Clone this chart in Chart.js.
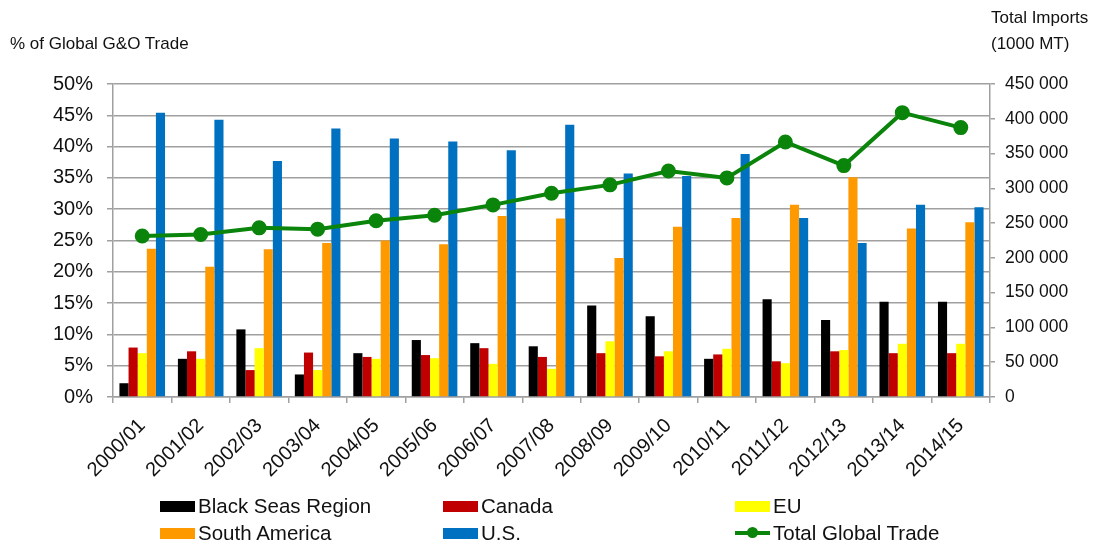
<!DOCTYPE html>
<html>
<head>
<meta charset="utf-8">
<script src="https://cdn.jsdelivr.net/npm/chart.js@4.4.1/dist/chart.umd.min.js"></script>
<style>
    body { margin: 0; background: #fff; font-family: "Liberation Sans", Arial, sans-serif; color: #111; }
    #wrap { position: relative; width: 1099px; height: 548px; }
    #chart { position: absolute; left: 0; top: 0; }
    .title { position: absolute; font-size: 17px; line-height: 26px; }
    .legend-item { position: absolute; font-size: 20.5px; line-height: 24px; white-space: nowrap; }
    .swatch { position: absolute; left: 0; top: 7px; width: 35px; height: 11px; }
    .legend-item span.txt { position: absolute; left: 38px; top: 0; }
</style>
</head>
<body>
<div id="wrap">
    <canvas id="chart" width="1099" height="548"></canvas>
    <div class="title" style="left:10px; top:31px;">% of Global G&amp;O Trade</div>
    <div class="title" style="left:991px; top:5px;">Total Imports<br>(1000 MT)</div>
    <div id="legend"></div>
</div>
<script>
// Marketing years
const years = ['2000/01', '2001/02', '2002/03', '2003/04', '2004/05', '2005/06', '2006/07', '2007/08',
               '2008/09', '2009/10', '2010/11', '2011/12', '2012/13', '2013/14', '2014/15'];

// Share of global trade (%)
const blackSeas = [2.2, 6.1, 10.8, 3.6, 7.0, 9.1, 8.6, 8.1, 14.6, 12.9, 6.1, 15.6, 12.3, 15.2, 15.2];
const canada    = [7.9, 7.3, 4.3, 7.1, 6.4, 6.7, 7.8, 6.4, 7.0, 6.5, 6.8, 5.7, 7.3, 7.0, 7.0];
const eu        = [7.0, 6.1, 7.8, 4.3, 6.1, 6.2, 5.3, 4.5, 8.9, 7.3, 7.7, 5.4, 7.5, 8.5, 8.5];
const southAm   = [23.7, 20.8, 23.6, 24.6, 25.0, 24.4, 28.9, 28.5, 22.2, 27.2, 28.6, 30.7, 35.1, 26.9, 27.9];
const us        = [45.4, 44.3, 37.7, 42.9, 41.3, 40.8, 39.4, 43.5, 35.7, 35.3, 38.8, 28.6, 24.6, 30.7, 30.3];

// Total global trade (1000 MT)
const totalTrade = [231500, 233600, 243200, 241300, 253300, 261400, 276200, 293000,
                    305000, 325000, 315000, 366700, 332700, 408800, 387300];

const pctTicks = [0, 5, 10, 15, 20, 25, 30, 35, 40, 45, 50];
const mtTicks = [0, 50000, 100000, 150000, 200000, 250000, 300000, 350000, 400000, 450000];

const colors = {
    black: '#000000', red: '#c00000', yellow: '#ffff00',
    orange: '#ff9900', blue: '#0070c0', green: '#0a840a'
};

const gridColor = '#a0a0a0';
const font = { family: '"Liberation Sans", Arial, sans-serif' };

function barSet(label, data, color) {
    return {
        type: 'bar', label: label, data: data, yAxisID: 'y',
        backgroundColor: color, borderWidth: 0,
        barPercentage: 1.0, categoryPercentage: 0.78, order: 2
    };
}

const datasets = [
    barSet('Black Seas Region', blackSeas, colors.black),
    barSet('Canada', canada, colors.red),
    barSet('EU', eu, colors.yellow),
    barSet('South America', southAm, colors.orange),
    barSet('U.S.', us, colors.blue),
    {
        type: 'line', label: 'Total Global Trade', data: totalTrade, yAxisID: 'y2',
        borderColor: colors.green, backgroundColor: colors.green,
        borderWidth: 4, pointRadius: 5.5, pointHoverRadius: 5.5,
        tension: 0, order: 1
    }
];

function formatThousands(v) {
    return String(v).replace(/\B(?=(\d{3})+(?!\d))/g, ' ');
}

new Chart(document.getElementById('chart'), {
    type: 'bar',
    data: { labels: years, datasets: datasets },
    options: {
        responsive: false,
        animation: false,
        layout: { padding: { top: 84, left: 0, right: 0, bottom: 0 } },
        plugins: { legend: { display: false }, tooltip: { enabled: false } },
        scales: {
            x: {
                offset: true,
                grid: { drawOnChartArea: false, drawTicks: true, tickLength: 6, color: gridColor, lineWidth: 1.5, offset: true },
                border: { color: gridColor, width: 1.5 },
                ticks: { color: '#111', font: { ...font, size: 20 }, minRotation: 45, maxRotation: 45, padding: 11 },
                afterFit: s => { s.height = 151; }
            },
            y: {
                position: 'left',
                min: 0, max: 50,
                afterBuildTicks: s => { s.ticks = pctTicks.map(v => ({ value: v })); },
                grid: { color: gridColor, lineWidth: 1.5, tickLength: 6 },
                border: { color: gridColor, width: 1.5 },
                ticks: { color: '#111', font: { ...font, size: 20 }, padding: 14, callback: v => v + '%' },
                afterFit: s => { s.width = 113; }
            },
            y2: {
                position: 'right',
                min: 0, max: 450000,
                afterBuildTicks: s => { s.ticks = mtTicks.map(v => ({ value: v })); },
                grid: { drawOnChartArea: false, color: gridColor, lineWidth: 1.5, tickLength: 5 },
                border: { color: gridColor, width: 1.5 },
                ticks: { color: '#111', font: { ...font, size: 17.5 }, padding: 10, callback: v => formatThousands(v) },
                afterFit: s => { s.width = 109; }
            }
        }
    }
});

// Legend laid out in a 3-column grid like the original
const legendPos = [
    [160, 494], [443, 494], [735, 494],
    [160, 521], [443, 521], [735, 521]
];
const legendEl = document.getElementById('legend');
datasets.forEach((ds, i) => {
    const item = document.createElement('div');
    item.className = 'legend-item';
    item.style.left = legendPos[i][0] + 'px';
    item.style.top = legendPos[i][1] + 'px';
    let swatch;
    if (ds.type === 'line') {
        swatch = `<div style="position:absolute;left:0;top:10px;width:35px;height:4px;background:${ds.borderColor}"></div>
                  <div style="position:absolute;left:12px;top:6px;width:11px;height:11px;border-radius:50%;background:${ds.borderColor}"></div>`;
    } else {
        swatch = `<div class="swatch" style="background:${ds.backgroundColor}"></div>`;
    }
    item.innerHTML = swatch + `<span class="txt">${ds.label}</span>`;
    legendEl.appendChild(item);
});
</script>
</body>
</html>
